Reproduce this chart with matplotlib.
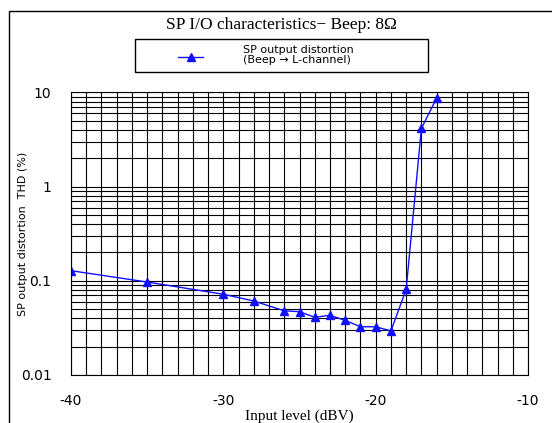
import matplotlib
matplotlib.use("Agg")
import matplotlib.pyplot as plt
from matplotlib.patches import Rectangle
from matplotlib.lines import Line2D
from matplotlib.ticker import FixedLocator, LogLocator, NullFormatter

plt.rcParams['axes.unicode_minus'] = False

# Input level (dBV) vs THD (%)
level = [-40, -35, -30, -28, -26, -25, -24, -23, -22, -21, -20, -19, -18, -17, -16]
thd = [0.128, 0.097, 0.072, 0.061, 0.048, 0.047, 0.041, 0.043, 0.038, 0.0325,
       0.0325, 0.0294, 0.081, 4.15, 8.7]

xticks = [-40, -30, -20, -10]
yticks = [0.01, 0.1, 1, 10]
ytick_labels = ["0.01", "0.1", "1", "10"]

fig = plt.figure(figsize=(5.52, 4.23), dpi=100)
ax = fig.add_axes([0.1286, 0.1135, 0.828, 0.668])

ax.set_yscale("log")
ax.set_xlim(-40, -10)
ax.set_ylim(0.01, 10)

ax.xaxis.set_major_locator(FixedLocator(xticks))
ax.xaxis.set_minor_locator(FixedLocator(range(-40, -9)))
ax.yaxis.set_major_locator(FixedLocator(yticks))
ax.yaxis.set_minor_locator(LogLocator(base=10, subs=range(2, 10)))
ax.yaxis.set_minor_formatter(NullFormatter())
ax.set_yticklabels(ytick_labels)

ax.grid(True, which="both", color="black", linewidth=0.8)
ax.tick_params(which="both", length=0)
ax.tick_params(axis="x", pad=14, labelsize=10)
ax.tick_params(axis="y", pad=14, labelsize=10)
for s in ax.spines.values():
    s.set_linewidth(0.8)

ax.plot(level, thd, color="#1010ff", linewidth=1.0, marker="^", markersize=5.5)

ax.set_xlabel("Input level (dBV)", family=["Liberation Serif", "DejaVu Serif"],
              fontsize=11, labelpad=1)
ax.set_ylabel("SP output distortion  THD (%)", fontsize=8)
ax.yaxis.set_label_coords(-0.095, 0.5)

fig.text(0.509, 0.941, "SP I/O characteristics\u2212 Beep: 8\u03a9",
         family=["Liberation Serif", "DejaVu Serif"], fontsize=12.5,
         ha="center", va="center")

# hand-made legend box
fig.patches.append(Rectangle((135 / 552, 1 - 71.7 / 423), 293 / 552, 32.4 / 423,
                             transform=fig.transFigure, fill=False,
                             edgecolor="black", linewidth=1.0))
fig.lines.append(Line2D([178 / 552, 203 / 552], [1 - 57 / 423, 1 - 57 / 423],
                        transform=fig.transFigure, color="#1010ff", linewidth=1.0))
fig.lines.append(Line2D([190.5 / 552], [1 - 57 / 423], transform=fig.transFigure,
                        color="#1010ff", marker="^", markersize=5.5))
fig.text(243 / 552, 1 - 55 / 423, "SP output distortion\n(Beep \u2192 L-channel)",
         fontsize=8, ha="left", va="center", linespacing=0.95)

# outer frame
fig.patches.append(Rectangle((9 / 552, -0.05), 1.1, 1 - 11 / 423 + 0.05,
                             transform=fig.transFigure, fill=False,
                             edgecolor="black", linewidth=1.0, clip_on=False))

fig.savefig("out.png", dpi=100)
